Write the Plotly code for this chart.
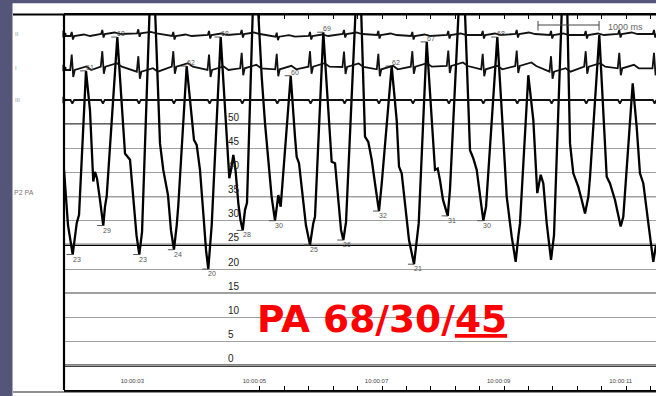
import plotly.graph_objects as go

# ---------------------------------------------------------------------------
# Pulmonary artery pressure (time in s from 10:00:00, pressure in mmHg)
# ---------------------------------------------------------------------------
pa_t = [1.881, 1.946, 2.089, 2.127, 2.306, 2.344, 2.360, 2.388, 2.421, 2.470,
        2.552, 2.580, 2.826, 2.880, 2.962, 3.016, 3.068, 3.159, 3.281, 3.327,
        3.374, 3.453, 3.507, 3.584, 3.633, 3.727, 3.753, 3.972, 4.010, 4.054,
        4.108, 4.162, 4.207, 4.272, 4.300, 4.518, 4.572, 4.588, 4.616, 4.654,
        4.690, 4.736, 4.772, 4.845, 4.878, 4.972, 5.017, 5.063, 5.119, 5.173,
        5.227, 5.281, 5.391, 5.430, 5.664, 5.692, 5.730, 5.774, 5.843, 5.964,
        5.992, 6.210, 6.265, 6.320, 6.374, 6.418, 6.500, 6.655, 6.701, 6.749,
        6.811, 6.865, 6.921, 6.975, 7.085, 7.330, 7.368, 7.412, 7.466, 7.532,
        7.663, 7.691, 7.904, 7.958, 8.002, 8.039, 8.089, 8.203, 8.343, 8.393,
        8.449, 8.531, 8.585, 8.641, 8.695, 8.794, 9.050, 9.132, 9.214, 9.279,
        9.322, 9.350, 9.486, 9.568, 9.633, 9.689, 9.732, 9.787, 9.858, 9.907,
        10.033, 10.079, 10.125, 10.169, 10.223, 10.305, 10.361, 10.415, 10.470,
        10.497, 10.649, 10.715, 10.770, 10.824, 10.906, 10.999, 11.042, 11.196,
        11.261, 11.315, 11.370, 11.452, 11.533, 11.578]
pa_p = [40.5, 29.1, 29.5, 31.2, 52.9, 39.9, 38.1, 40.1, 38.8, 34.3,
        32.9, 35.1, 52.9, 43.9, 42.6, 35.0, 27.0, 27.7, 73.0, 78.0,
        73.0, 46.0, 40.5, 35.3, 28.0, 29.1, 33.2, 50.9, 46.7, 45.7,
        40.5, 31.6, 23.9, 25.4, 29.1, 52.9, 41.2, 38.8, 40.5, 43.6,
        40.5, 33.6, 30.1, 32.2, 33.7, 73.0, 78.0, 73.0, 59.8, 50.2,
        43.2, 35.0, 35.3, 32.9, 47.4, 43.2, 41.9, 36.4, 29.1, 29.5,
        30.8, 52.9, 42.2, 41.9, 35.0, 28.1, 29.7, 73.0, 78.0, 73.0,
        47.4, 46.3, 42.6, 37.7, 37.7, 50.8, 41.2, 39.8, 33.6, 26.0,
        26.0, 29.5, 50.8, 40.5, 40.8, 38.4, 34.3, 36.4, 73.0, 78.0,
        73.0, 44.6, 42.9, 40.5, 35.0, 32.9, 52.9, 35.0, 26.7, 21.5,
        26.7, 29.5, 60.1, 50.8, 35.7, 39.5, 37.7, 29.5, 21.9, 27.0,
        73.0, 78.0, 73.0, 46.0, 39.8, 37.0, 34.3, 31.5, 35.0,
        39.1, 68.4, 52.9, 39.1, 37.7, 34.3, 28.8, 30.8, 58.4,
        49.4, 39.8, 37.7, 29.5, 21.5, 25.0]

# Measured systolic peaks and diastolic troughs (labelled on the tracing)
peak_t = [2.241, 2.754, 3.890, 4.447, 5.594, 6.128, 7.248, 7.822, 8.978]
peak_p = [61, 68, 62, 68, 60, 69, 62, 67, 68]
trough_t = [2.023, 2.524, 3.114, 3.682, 4.244, 4.808, 5.337, 5.910, 6.456,
            7.040, 7.614, 8.166, 8.749]
trough_p = [23, 29, 23, 24, 20, 28, 30, 25, 26, 32, 21, 31, 30]

# ---------------------------------------------------------------------------
# Surface ECG leads (mV)
# ---------------------------------------------------------------------------
beat_t = [2.007, 2.508, 3.098, 3.671, 4.256, 4.791, 5.365, 5.910, 6.467,
          7.029, 7.586, 8.175, 8.739, 9.296, 9.858, 10.426, 10.976, 11.545]
lead_top_base = [-0.2, 0.0, 0.07, -0.2, -0.1, 0.0, -0.27, -0.2, 0.0,
                 -0.1, -0.2, -0.1, -0.1, 0.0, -0.1, -0.1, 0.0, 0.0]
lead_mid_base = [-0.2, 0.13, -0.37, 0.13, -0.2, -0.03, -0.13, 0.13, 0.1,
                 -0.13, 0.13, 0.2, -0.13, 0.2, -0.37, 0.13, -0.03, -0.03]
lead_low_base = [0.0] * len(beat_t)

# Complex shape per lead: (offset from beat in s, amplitude in mV)
complex_top_dt = [-0.02, 0.0, 0.02, 0.04, 0.20, 0.30]
complex_top_mv = [0.0, 0.4, -0.35, 0.0, 0.15, 0.0]
complex_mid_dt = [-0.025, 0.0, 0.025, 0.05, 0.17, 0.24, 0.32]
complex_mid_mv = [0.0, 1.55, -0.7, 0.0, 0.25, 0.35, 0.0]
complex_low_dt = [-0.02, 0.01, 0.04]
complex_low_mv = [0.0, -0.35, 0.0]

lead_labels = ["II", "I", "III"]
channel_label = "P2 PA"

time_tick_vals = [3, 5, 7, 9, 11]
time_tick_text = ["10:00:03", "10:00:05", "10:00:07", "10:00:09", "10:00:11"]
pressure_ticks = [0, 5, 10, 15, 20, 25, 30, 35, 40, 45, 50]
summary = ("68", "30", "45")   # systolic / diastolic / mean
scale_bar_s = 1.0

# ---------------------------------------------------------------------------
# Page geometry (pixels) and calibration
# ---------------------------------------------------------------------------
W, H = 656, 396
PLOT_L, PLOT_R, PLOT_T, PLOT_B = 64, 656, 15, 390
ZERO_Y = 365.7          # pixel row of 0 mmHg
PX_PER_MMHG = 4.833
PX_PER_S = 61.05
T_REF, X_REF = 7.0, 376.54
PX_PER_MV = 10.0
LEAD_Y = [34, 68, 100]  # baseline rows of the three ECG leads

t_left = T_REF + (PLOT_L - X_REF) / PX_PER_S
t_right = T_REF + (PLOT_R - X_REF) / PX_PER_S
p_top = (ZERO_Y - PLOT_T) / PX_PER_MMHG
p_bot = (ZERO_Y - PLOT_B) / PX_PER_MMHG
plot_h = PLOT_B - PLOT_T
plot_w = PLOT_R - PLOT_L


def px(xp):
    return (xp - PLOT_L) / plot_w


def py(yp):
    return (PLOT_B - yp) / plot_h


def ecg_series(base, dts, mvs):
    xs, ys = [t_left], [base[0]]
    for bt, b in zip(beat_t, base):
        for dt, v in zip(dts, mvs):
            xs.append(bt + dt)
            ys.append(b + v)
    xs.append(t_right)
    ys.append(base[-1])
    return xs, ys


# merge the labelled extremes into the pressure waveform
merged = sorted(zip(pa_t + peak_t + trough_t, pa_p + peak_p + trough_p))
wave_t = [m[0] for m in merged]
wave_p = [m[1] for m in merged]

fig = go.Figure()

# ECG leads, each on its own overlaid axis
leads = [
    (lead_top_base, complex_top_dt, complex_top_mv, "y2"),
    (lead_mid_base, complex_mid_dt, complex_mid_mv, "y3"),
    (lead_low_base, complex_low_dt, complex_low_mv, "y4"),
]
for base, dts, mvs, yax in leads:
    xs, ys = ecg_series(base, dts, mvs)
    fig.add_trace(go.Scatter(x=xs, y=ys, mode="lines", xaxis="x2", yaxis=yax,
                             line=dict(color="#111111", width=1.8),
                             hoverinfo="skip", showlegend=False))
    # calibration marker at the start of the channel
    fig.add_trace(go.Scatter(x=[t_left], y=[0], mode="markers", xaxis="x2",
                             yaxis=yax, cliponaxis=False,
                             marker=dict(symbol="triangle-right", size=6,
                                         color="#000000"),
                             hoverinfo="skip", showlegend=False))

# PA pressure waveform
fig.add_trace(go.Scatter(x=wave_t, y=wave_p, mode="lines",
                         line=dict(color="#000000", width=2.3),
                         hoverinfo="skip", showlegend=False))

# short level markers beside each measured extreme
seg_x, seg_y = [], []
for t, p in list(zip(peak_t, peak_p)) + list(zip(trough_t, trough_p)):
    seg_x += [t - 0.1, t, None]
    seg_y += [p, p, None]
fig.add_trace(go.Scatter(x=seg_x, y=seg_y, mode="lines",
                         line=dict(color="#555555", width=1),
                         hoverinfo="skip", showlegend=False))

annotations = []
for t, p in zip(peak_t, peak_p):
    annotations.append(dict(x=t, y=p, xref="x", yref="y", text=str(p),
                            showarrow=False, xanchor="left", yanchor="bottom",
                            xshift=-2, yshift=-2,
                            font=dict(size=7, color="#555555",
                                      family="Liberation Sans")))
for t, p in zip(trough_t, trough_p):
    annotations.append(dict(x=t, y=p, xref="x", yref="y", text=str(p),
                            showarrow=False, xanchor="left", yanchor="top",
                            xshift=-2, yshift=1,
                            font=dict(size=7, color="#555555",
                                      family="Liberation Sans")))

# channel labels in the left gutter
for name, yp in zip(lead_labels, LEAD_Y):
    annotations.append(dict(x=px(13), y=py(yp), xref="paper", yref="paper",
                            text=name, showarrow=False, xanchor="left",
                            yanchor="middle",
                            font=dict(size=6, color="#9a9a9a",
                                      family="Liberation Sans")))
annotations.append(dict(x=px(12), y=py(192), xref="paper", yref="paper",
                        text=channel_label, showarrow=False, xanchor="left",
                        yanchor="middle",
                        font=dict(size=7, color="#777777",
                                  family="Liberation Sans")))

# 1000 ms scale bar caption
annotations.append(dict(x=px(606), y=py(27), xref="paper", yref="paper",
                        text=f"{int(scale_bar_s * 1000)} ms", showarrow=False,
                        xanchor="left", yanchor="middle",
                        font=dict(size=9, color="#666666",
                                  family="Liberation Sans")))

# summary of the pressures
annotations.append(dict(x=px(255), y=py(319), xref="paper", yref="paper",
                        text=f"<b>PA {summary[0]}/{summary[1]}/<u>{summary[2]}</u></b>",
                        showarrow=False, xanchor="left", yanchor="middle",
                        font=dict(size=37.5, color="#ff0000",
                                  family="DejaVu Sans")))

shapes = []
# white recording panel on the slate page
shapes.append(dict(type="rect", xref="paper", yref="paper",
                   x0=px(12.5), x1=px(W + 2), y0=py(H + 2), y1=py(3.3),
                   fillcolor="#ffffff", line=dict(width=0), layer="below"))
# emphasised grid rows
grid_style = {0: ("#000000", 2.2), 25: ("#000000", 2.2), 50: ("#333333", 1.6),
              35: ("#444444", 1.2), 15: ("#444444", 1.2), 5: ("#666666", 1.1)}
for val, (col, w) in grid_style.items():
    shapes.append(dict(type="line", xref="paper", yref="y", x0=0, x1=1,
                       y0=val, y1=val, line=dict(color=col, width=w),
                       layer="below"))
# frame lines
shapes.append(dict(type="line", xref="paper", yref="paper", x0=px(13), x1=1,
                   y0=py(14.5), y1=py(14.5),
                   line=dict(color="#000000", width=1.8), layer="above"))
shapes.append(dict(type="line", xref="paper", yref="paper", x0=0, x1=0,
                   y0=0, y1=py(14.5),
                   line=dict(color="#000000", width=2.2), layer="above"))
shapes.append(dict(type="line", xref="paper", yref="paper", x0=px(13), x1=1,
                   y0=py(392), y1=py(392),
                   line=dict(color="#222222", width=1.2), layer="above"))
# 1000 ms scale bar
bar_x0 = T_REF + (538 - X_REF) / PX_PER_S
bar_x1 = bar_x0 + scale_bar_s
shapes.append(dict(type="line", xref="x", yref="paper", x0=bar_x0, x1=bar_x1,
                   y0=py(25), y1=py(25), line=dict(color="#444444", width=1)))
for bx in (bar_x0, bar_x1):
    shapes.append(dict(type="line", xref="x", yref="paper", x0=bx, x1=bx,
                       y0=py(21), y1=py(30.5),
                       line=dict(color="#444444", width=1)))


def lead_range(yp):
    hi = (yp - PLOT_T) / PX_PER_MV
    return [hi - plot_h / PX_PER_MV, hi]


fig.update_layout(
    width=W, height=H,
    margin=dict(l=PLOT_L, r=W - PLOT_R, t=PLOT_T, b=H - PLOT_B),
    paper_bgcolor="#555579",
    plot_bgcolor="#ffffff",
    showlegend=False,
    font=dict(family="Liberation Sans", color="#222222"),
    xaxis=dict(range=[t_left, t_right], showgrid=False, zeroline=False,
               showline=True, linecolor="#000000", linewidth=2,
               mirror="ticks", ticks="inside", ticklen=4, tickwidth=1.4,
               tickcolor="#000000", tickmode="linear", tick0=2.29, dtick=0.4,
               showticklabels=False, fixedrange=True),
    xaxis2=dict(overlaying="x", matches="x", anchor="y", side="bottom",
                range=[t_left, t_right], showgrid=False, zeroline=False,
                showline=False, ticks="", tickmode="array",
                tickvals=time_tick_vals, ticktext=time_tick_text,
                ticklabelposition="inside", ticklabelstandoff=3,
                tickfont=dict(size=6, color="#444444")),
    yaxis=dict(range=[p_bot, p_top], anchor="free", position=px(224),
               showline=False, zeroline=False, ticks="",
               tickmode="array", tickvals=pressure_ticks,
               ticklabelposition="inside top",
               showgrid=True, gridcolor="#a0a0a0", gridwidth=1,
               tickfont=dict(size=10, color="#222222",
                             family="Liberation Sans"),
               fixedrange=True),
    yaxis2=dict(overlaying="y", range=lead_range(LEAD_Y[0]), visible=False),
    yaxis3=dict(overlaying="y", range=lead_range(LEAD_Y[1]), visible=False),
    yaxis4=dict(overlaying="y", range=lead_range(LEAD_Y[2]), visible=False),
    annotations=annotations,
    shapes=shapes,
)

fig.write_html("out.html")
